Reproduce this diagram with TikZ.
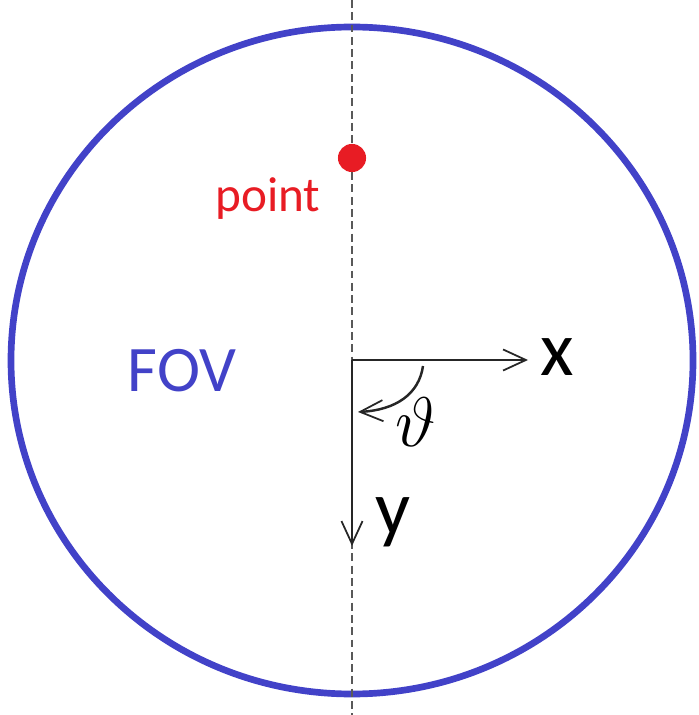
\RequirePackage{fix-cm}
\documentclass[tikz,border=0pt]{standalone}
\usepackage{fontspec}
\setmainfont{Carlito}
\usetikzlibrary{arrows.meta}

\definecolor{fovblue}{RGB}{66,66,200}
\definecolor{ptred}{RGB}{232,28,36}

\begin{document}
\begin{tikzpicture}[x=0.02cm, y=-0.02cm]

    \useasboundingbox (0,0) rectangle (698,715);

    \tikzset{axis/.style={-{Straight Barb[length=13pt, width=12pt, line width=1pt]}, line width=1.1pt, black!85}}
    \tikzset{guide/.style={dash pattern=on 4.5pt off 2.5pt, line width=0.9pt, black!65}}

    % Field of view + vertical guide
    \draw[fovblue, line width=3.8pt] (352,360.5) ellipse [x radius=341, y radius=333.5];
    \coordinate (top) at (352,0);
    \coordinate (bottom) at (352,715);
    \draw[guide] (top) -- (bottom);

    \node[fovblue, font=\fontsize{37}{37}\selectfont] (fov) at (182,371) {FOV};

    % The point
    \node[circle, fill=ptred, inner sep=0pt, minimum size=16pt] (pt) at (352,158) {};
    \node[ptred, font=\fontsize{28}{28}\selectfont] (ptlabel) at (268,199) {point};

    % Axes
    \coordinate (O) at (352,360);
    \coordinate (xend) at (528,360);
    \coordinate (yend) at (352,546);
    \draw[axis] (O) -- (xend);
    \draw[axis] (O) -- (yend);
    \node[font=\fontsize{44}{44}\selectfont] (xlabel) at (557,357) {x};
    \node[font=\fontsize{44}{44}\selectfont] (ylabel) at (393,522) {y};

    % Angle
    \coordinate (a1) at (423,366);
    \coordinate (a2) at (358,412);
    \draw[axis, line width=1.4pt] (a1) .. controls (419,394) and (396,410) .. (a2);
    \node[font=\fontsize{40}{40}\selectfont] (theta) at (416,422) {$\vartheta$};

\end{tikzpicture}
\end{document}
